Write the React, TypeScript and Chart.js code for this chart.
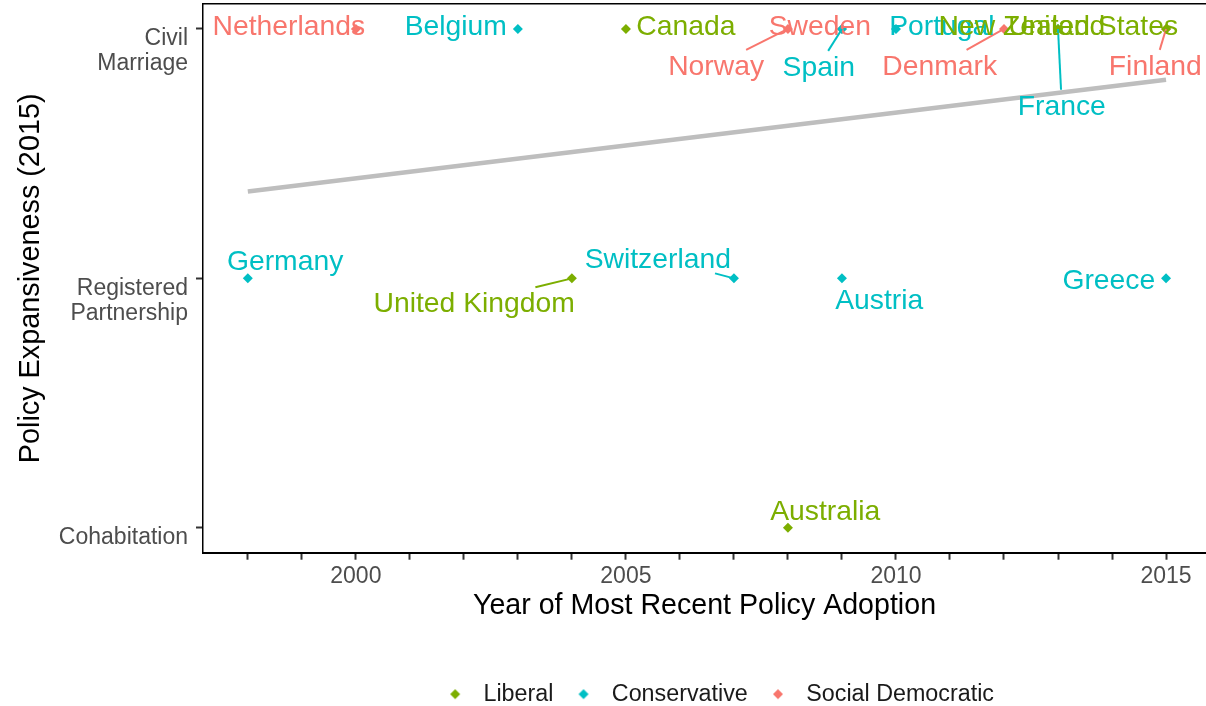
import React, { useEffect, useRef } from "react";
import { Chart, registerables } from "chart.js";

Chart.register(...registerables);

const FONT = '"Liberation Sans", Arial, Helvetica, sans-serif';

// ---- Data ----
const regimeNames = ["Liberal", "Conservative", "Social Democratic"];
const regimeColors = ["#7CAE00", "#00BFC4", "#F8766D"];

const liberalCountries = ["Canada", "United Kingdom", "Australia", "United States", "New Zealand"];
const liberalYears = [2005, 2004, 2008, 2015, 2013];
const liberalLevels = [3, 2, 1, 3, 3];
const liberalLabelYears = [2006.11, 2002.19, 2008.69, 2013.65, 2012.33];
const liberalLabelLevels = [3.014, 1.904, 1.072, 3.014, 3.014];

const conservativeCountries = ["Belgium", "Spain", "Portugal", "France", "Germany", "Switzerland", "Austria", "Greece"];
const conservativeYears = [2003, 2009, 2010, 2013, 1998, 2007, 2009, 2015];
const conservativeLevels = [3, 3, 3, 3, 2, 2, 2, 2];
const conservativeLabelYears = [2001.85, 2008.57, 2010.85, 2013.07, 1998.69, 2005.59, 2009.69, 2013.94];
const conservativeLabelLevels = [3.014, 2.852, 3.014, 2.696, 2.072, 2.08, 1.916, 1.996];

const socialCountries = ["Netherlands", "Sweden", "Norway", "Denmark", "Finland"];
const socialYears = [2000, 2009, 2008, 2012, 2015];
const socialLevels = [3, 3, 3, 3, 3];
const socialLabelYears = [1998.76, 2008.59, 2006.67, 2010.81, 2014.8];
const socialLabelLevels = [3.014, 3.014, 2.856, 2.856, 2.856];

const trendYears = [1998, 2015];
const trendLevels = [2.348, 2.796];

const xTickYears = [1998, 1999, 2000, 2001, 2002, 2003, 2004, 2005, 2006, 2007, 2008, 2009, 2010, 2011, 2012, 2013, 2014, 2015];
const xTickLabelYears = [2000, 2005, 2010, 2015];
const levelTicks = [1, 2, 3];
const levelLabels = [["Cohabitation", ""], ["Registered", "Partnership"], ["Civil", "Marriage"]];

const X_MIN = 1997.17;
const X_MAX = 2015.74;
const Y_MIN = 0.9;
const Y_MAX = 3.1;

function makeMarker(color: string): HTMLCanvasElement {
  const c = document.createElement("canvas");
  c.width = 24;
  c.height = 14;
  const g = c.getContext("2d")!;
  g.fillStyle = color;
  g.beginPath();
  g.moveTo(7 - 5, 7);
  g.lineTo(7, 7 - 5);
  g.lineTo(7 + 5, 7);
  g.lineTo(7, 7 + 5);
  g.closePath();
  g.fill();
  return c;
}

const repelLabels = {
  id: "repelLabels",
  afterDatasetsDraw(chart: any) {
    const { ctx, scales } = chart;
    const xs = scales.x;
    const ys = scales.y;
    ctx.save();
    ctx.font = `28.3px ${FONT}`;
    const order = [2, 1, 0];
    for (const di of order) {
      const ds = chart.data.datasets[di];
      const info = ds.repel;
      if (!info) continue;
      ds.data.forEach((pt: any, i: number) => {
        const px = xs.getPixelForValue(pt.x);
        const py = ys.getPixelForValue(pt.y);
        const lx = xs.getPixelForValue(info.labelYears[i]);
        const ly = ys.getPixelForValue(info.labelLevels[i]);
        const text = info.names[i];
        const w = ctx.measureText(text).width;
        const hw = w / 2 + 2;
        const hh = 15;
        const dx = px - lx;
        const dy = py - ly;
        let t = 1;
        if (dx !== 0) t = Math.min(t, hw / Math.abs(dx));
        if (dy !== 0) t = Math.min(t, hh / Math.abs(dy));
        if (t < 1) {
          const sx = lx + dx * t;
          const sy = ly + dy * t;
          const len = Math.hypot(px - sx, py - sy);
          if (len > 15) {
            ctx.strokeStyle = ds.backgroundColor;
            ctx.lineWidth = 2;
            ctx.beginPath();
            ctx.moveTo(sx, sy);
            ctx.lineTo(px, py);
            ctx.stroke();
          }
        }
        ctx.fillStyle = ds.backgroundColor;
        ctx.textAlign = "center";
        ctx.textBaseline = "alphabetic";
        ctx.fillText(text, lx, ly + 10);
      });
    }
    ctx.restore();
  },
};

const legendShift = {
  id: "legendShift",
  afterLayout(chart: any) {
    const lg = chart.legend;
    if (!lg || !lg.lineWidths) return;
    const pad = lg.options.labels.padding;
    const current = (lg.left + pad + lg.right - lg.lineWidths[0]) / 2;
    const dx = 448.5 - current;
    const dy = 659 - lg.top;
    lg.left += dx;
    lg.right += dx;
    lg.top += dy;
    lg.bottom += dy;
  },
};

function toPoints(xv: number[], yv: number[]) {
  return xv.map((v, i) => ({ x: v, y: yv[i] }));
}

export default function App() {
  const ref = useRef<HTMLCanvasElement>(null);

  useEffect(() => {
    document.body.style.margin = "0";
    const markers = regimeColors.map((c) => makeMarker(c));

    const scatter = (idx: number, names: string[], xv: number[], yv: number[], lxv: number[], lyv: number[]) => ({
      type: "scatter" as const,
      label: regimeNames[idx],
      data: toPoints(xv, yv),
      backgroundColor: regimeColors[idx],
      borderColor: regimeColors[idx],
      borderWidth: 0,
      pointStyle: "rectRot",
      pointRadius: 5,
      pointHoverRadius: 5,
      repel: { names, labelYears: lxv, labelLevels: lyv },
    });

    const chart = new Chart(ref.current!, {
      type: "scatter",
      data: {
        datasets: [
          scatter(0, liberalCountries, liberalYears, liberalLevels, liberalLabelYears, liberalLabelLevels),
          scatter(1, conservativeCountries, conservativeYears, conservativeLevels, conservativeLabelYears, conservativeLabelLevels),
          scatter(2, socialCountries, socialYears, socialLevels, socialLabelYears, socialLabelLevels),
          {
            type: "line",
            label: "trend",
            data: toPoints(trendYears, trendLevels),
            borderColor: "#BEBEBE",
            backgroundColor: "#BEBEBE",
            borderWidth: 4.5,
            pointRadius: 0,
            fill: false,
            tension: 0,
          } as any,
        ] as any,
      },
      options: {
        animation: false,
        responsive: false,
        maintainAspectRatio: false,
        devicePixelRatio: 1,
        events: [],
        font: { family: FONT },
        layout: { autoPadding: false, padding: { top: 4, left: 0, right: 0, bottom: 25.5 } },
        plugins: {
          tooltip: { enabled: false },
          title: { display: false },
          legend: {
            display: true,
            position: "bottom",
            align: "center",
            labels: {
              usePointStyle: true,
              padding: 23.5,
              color: "#1A1A1A",
              font: { size: 23.3, family: FONT },
              generateLabels: (ch: any) => {
                const items = (Chart.defaults.plugins.legend.labels as any).generateLabels(ch);
                return items
                  .filter((it: any) => it.datasetIndex < 3)
                  .map((it: any) => ({ ...it, pointStyle: markers[it.datasetIndex], fontColor: "#1A1A1A" }));
              },
            },
          },
        },
        scales: {
          x: {
            type: "linear",
            position: "bottom",
            min: X_MIN,
            max: X_MAX,
            afterBuildTicks: (s: any) => {
              s.ticks = xTickYears.map((v) => ({ value: v }));
            },
            afterFit: (s: any) => {
              s.height = 71;
              s.paddingLeft = 0;
              s.paddingRight = 0;
            },
            ticks: {
              autoSkip: false,
              maxRotation: 0,
              minRotation: 0,
              padding: 3,
              color: "#4D4D4D",
              font: { size: 23, family: FONT, lineHeight: 1.2 },
              callback: (v: any) => (xTickLabelYears.includes(Number(v)) ? String(v) : ""),
            },
            grid: { display: true, drawOnChartArea: false, drawTicks: true, tickLength: 7, tickWidth: 2, tickColor: "#333333" },
            border: { display: true, color: "#000000", width: 2 },
            title: {
              display: true,
              text: "Year of Most Recent Policy Adoption",
              color: "#000000",
              font: { size: 28.6, family: FONT, lineHeight: 1.2 },
              padding: { top: 0, bottom: 0 },
            },
          },
          xTop: {
            type: "linear",
            position: "top",
            min: X_MIN,
            max: X_MAX,
            ticks: { display: false },
            grid: { display: false, drawTicks: false },
            border: { display: true, color: "#000000", width: 1.5 },
            afterFit: (s: any) => {
              s.height = 0;
            },
          },
          y: {
            type: "linear",
            min: Y_MIN,
            max: Y_MAX,
            afterBuildTicks: (s: any) => {
              s.ticks = levelTicks.map((v) => ({ value: v }));
            },
            afterFit: (s: any) => {
              s.width = 203;
              s.paddingTop = 0;
              s.paddingBottom = 0;
            },
            ticks: {
              autoSkip: false,
              padding: 8,
              labelOffset: 22.5,
              color: "#4D4D4D",
              font: { size: 23, family: FONT, lineHeight: 1.1 },
              callback: (_v: any, i: number) => levelLabels[i],
            },
            grid: { display: true, drawOnChartArea: false, drawTicks: true, tickLength: 7, tickWidth: 2, tickColor: "#333333" },
            border: { display: true, color: "#000000", width: 1.5 },
            title: {
              display: true,
              text: "Policy Expansiveness (2015)",
              color: "#000000",
              font: { size: 28.8, family: FONT, lineHeight: 1.2 },
              padding: { top: 13.5, bottom: 0 },
            },
          },
        },
      } as any,
      plugins: [repelLabels, legendShift],
    });
    return () => chart.destroy();
  }, []);

  return (
    <div style={{ width: 1206, height: 706, position: "relative", overflow: "hidden" }}>
      <canvas ref={ref} width={1206} height={706} style={{ display: "block", width: 1206, height: 706 }} />
    </div>
  );
}
